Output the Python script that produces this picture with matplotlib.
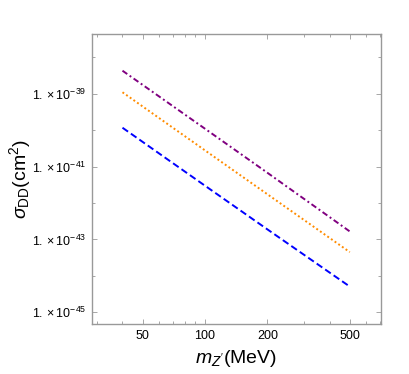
import numpy as np
import matplotlib
matplotlib.use('Agg')
import matplotlib.pyplot as plt
from matplotlib.ticker import FixedLocator, NullFormatter

plt.rcParams['font.family'] = ['Liberation Sans', 'DejaVu Sans']
plt.rcParams['mathtext.fontset'] = 'custom'
plt.rcParams['mathtext.rm'] = 'Liberation Sans'
plt.rcParams['mathtext.it'] = 'Liberation Sans:italic'

# values (log-log straight lines)
m_zp = [40, 100, 200, 500]
sigma_purple = [4.3e-39, 1.10e-40, 6.8e-42, 1.66e-43]
sigma_orange = [1.1e-39, 2.8e-41, 1.75e-42, 4.5e-44]
sigma_blue = [1.17e-40, 3.0e-42, 1.9e-43, 5.1e-45]

xticks = [50, 100, 200, 500]
xticklabels = ['50', '100', '200', '500']
yticks = [1e-45, 1e-43, 1e-41, 1e-39]
yticklabels = [r'$1.\times10^{-45}$', r'$1.\times10^{-43}$',
               r'$1.\times10^{-41}$', r'$1.\times10^{-39}$']

fig = plt.figure(figsize=(4.1, 3.74), dpi=100)
ax = fig.add_axes([0.2244, 0.1337, 0.7046, 0.7753])

ax.plot(m_zp, sigma_purple, color='#800080', lw=1.4, linestyle=(0, (3, 1.5, 1, 1.5)))
ax.plot(m_zp, sigma_orange, color='#ff8c00', lw=1.4, linestyle=(0, (1, 1.3)))
ax.plot(m_zp, sigma_blue, color='#0000ff', lw=1.4, linestyle=(0, (3.5, 1.8)))

ax.set_xscale('log')
ax.set_yscale('log')
ax.set_xlim(10**1.455, 10**2.849)
ax.set_ylim(10**-45.32, 10**-37.36)

ax.xaxis.set_major_locator(FixedLocator(xticks))
ax.set_xticklabels(xticklabels)
ax.xaxis.set_minor_locator(FixedLocator([30, 40, 60, 70, 80, 90, 300, 400, 600, 700]))
ax.xaxis.set_minor_formatter(NullFormatter())
ax.yaxis.set_major_locator(FixedLocator(yticks))
ax.set_yticklabels(yticklabels)
ax.yaxis.set_minor_locator(FixedLocator([1e-44, 1e-42, 1e-40, 1e-38]))
ax.yaxis.set_minor_formatter(NullFormatter())

ax.tick_params(which='both', direction='in', top=True, right=True,
               color='#999999', labelsize=9, pad=4)
ax.tick_params(which='major', length=3.5, width=0.6)
ax.tick_params(which='minor', length=2, width=0.6)
for s in ax.spines.values():
    s.set_color('#999999')
    s.set_linewidth(1.0)

ax.set_xlabel(r"$m_{Z'}$(MeV)", fontsize=14, va='center')
ax.set_ylabel(r'$\sigma_{\rm DD}$(cm$^2$)', fontsize=14, va='center')
ax.xaxis.set_label_coords(0.5, -0.118)
ax.yaxis.set_label_coords(-0.25, 0.5)

fig.savefig('out.png', dpi=100)
